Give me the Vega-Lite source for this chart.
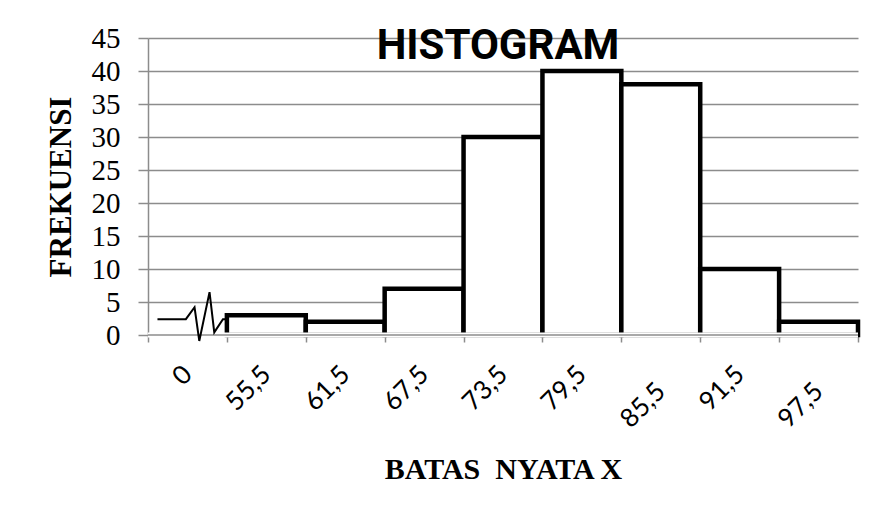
{
  "$schema": "https://vega.github.io/schema/vega-lite/v6.json",
  "width": 710,
  "height": 297,
  "autosize": "none",
  "padding": {"left": 148, "top": 38, "right": 21, "bottom": 185},
  "background": "white",
  "datasets": {
    "frekuensi": [
      {"batas": "55,5", "frekuensi": 3},
      {"batas": "61,5", "frekuensi": 2},
      {"batas": "67,5", "frekuensi": 7},
      {"batas": "73,5", "frekuensi": 30},
      {"batas": "79,5", "frekuensi": 40},
      {"batas": "85,5", "frekuensi": 38},
      {"batas": "91,5", "frekuensi": 10},
      {"batas": "97,5", "frekuensi": 2}
    ],
    "patahan": [
      {"u": 0.12, "y": 2.4},
      {"u": 0.48, "y": 2.4},
      {"u": 0.59, "y": 4.2},
      {"u": 0.65, "y": -0.9},
      {"u": 0.78, "y": 6.5},
      {"u": 0.84, "y": 0.4},
      {"u": 0.95, "y": 2.4},
      {"u": 1.0, "y": 2.4}
    ]
  },
  "title": {
    "text": "HISTOGRAM",
    "font": "Roboto",
    "fontSize": 42,
    "fontWeight": "bold",
    "color": "black",
    "anchor": "middle",
    "baseline": "alphabetic",
    "offset": -27,
    "dx": -5,
    "dy": 50
  },
  "layer": [
    {
      "data": {"name": "frekuensi"},
      "mark": {"type": "bar", "fill": "white", "stroke": "black", "strokeWidth": 4.5, "strokeJoin": "miter"},
      "encoding": {
        "x": {
          "field": "batas",
          "type": "ordinal",
          "sort": null,
          "scale": {
            "domain": ["0", "55,5", "61,5", "67,5", "73,5", "79,5", "85,5", "91,5", "97,5"],
            "paddingInner": 0,
            "paddingOuter": 0
          },
          "axis": {
            "title": "BATAS\u00a0 NYATA X",
            "titleFont": "Liberation Serif",
            "titleFontSize": 30,
            "titleFontWeight": "bold",
            "titleColor": "black",
            "titlePadding": 22,
            "labelAngle": -45,
            "labelAlign": "right",
            "labelBaseline": "middle",
            "labelFont": "Lato",
            "labelFontSize": 26,
            "labelColor": "black",
            "labelOverlap": false,
            "labelPadding": {
              "condition": {"test": "datum.value === '85,5' || datum.value === '97,5'", "value": 45},
              "value": 28
            },
            "tickBand": "extent",
            "tickSize": 7,
            "tickColor": "#8c8c8c",
            "tickWidth": 1.5,
            "domainColor": "#8c8c8c",
            "domainWidth": 1.5,
            "grid": false
          }
        },
        "y": {
          "field": "frekuensi",
          "type": "quantitative",
          "scale": {"domain": [0, 45], "nice": false},
          "axis": {"values": [0, 5, 10, 15, 20, 25, 30, 35, 40, 45], "title": "FREKUENSI"}
        }
      }
    },
    {
      "data": {"values": [{}]},
      "mark": {"type": "rule", "color": "white", "strokeWidth": 5},
      "encoding": {
        "y": {"datum": 0, "type": "quantitative", "axis": {"values": [0, 5, 10, 15, 20, 25, 30, 35, 40, 45], "title": "FREKUENSI"}}
      }
    },
    {
      "data": {"values": [{}]},
      "mark": {"type": "rule", "color": "#8c8c8c", "strokeWidth": 1.5},
      "encoding": {
        "y": {"datum": 0, "type": "quantitative", "axis": {"values": [0, 5, 10, 15, 20, 25, 30, 35, 40, 45], "title": "FREKUENSI"}}
      }
    },
    {
      "data": {"name": "patahan"},
      "mark": {"type": "line", "color": "black", "strokeWidth": 2, "strokeJoin": "miter"},
      "encoding": {
        "x": {"field": "u", "type": "quantitative", "scale": {"domain": [0, 9]}, "axis": null},
        "y": {
          "field": "y",
          "type": "quantitative",
          "scale": {"domain": [0, 45], "nice": false},
          "axis": {"values": [0, 5, 10, 15, 20, 25, 30, 35, 40, 45], "title": "FREKUENSI"}
        }
      }
    }
  ],
  "resolve": {"scale": {"x": "independent"}},
  "config": {
    "view": {"stroke": null},
    "axisY": {
      "tickCount": 10,
      "titleFont": "Liberation Serif",
      "titleFontSize": 31,
      "titleFontWeight": "bold",
      "titleColor": "black",
      "titlePadding": 14,
      "labelFont": "Liberation Serif",
      "labelFontSize": 29,
      "labelColor": "black",
      "labelPadding": 18,
      "labelOverlap": false,
      "labelBound": false,
      "grid": true,
      "gridColor": "#8c8c8c",
      "gridWidth": 1.5,
      "tickSize": 10,
      "tickColor": "#8c8c8c",
      "tickWidth": 1.5,
      "domainColor": "#8c8c8c",
      "domainWidth": 1.5
    }
  }
}
